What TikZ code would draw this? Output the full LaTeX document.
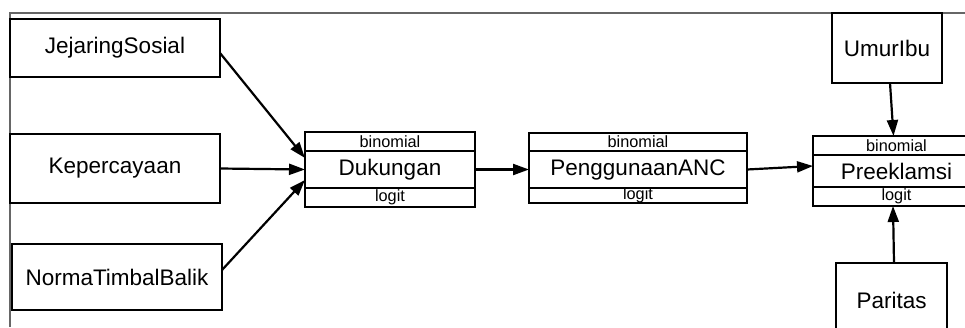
\documentclass[tikz,border=0pt]{standalone}
\usepackage{fontspec}
\setmainfont{Liberation Sans}
\usetikzlibrary{arrows.meta}
\begin{document}
\begin{tikzpicture}[x=1pt,y=-1pt,
 box/.style={draw,line width=2.4pt,inner sep=0pt,outer sep=0pt,font=\fontsize{22.5}{24}\selectfont},
 sub/.style={draw,line width=2.4pt,inner sep=0pt,outer sep=0pt,font=\fontsize{16.3}{17}\selectfont},
 arr/.style={line width=2.2pt,-{Triangle[length=16pt,width=11pt]}},
 frameline/.style={draw=black!60,line width=1.2pt}]
\useasboundingbox (0,0) rectangle (965,327);
\clip (0,0) rectangle (965,327);
\draw[frameline] (10,327) -- (10,13) -- (965,13);
% left inputs
\node[box,minimum width=210,minimum height=58] (js) at (115,48) {JejaringSosial};
\node[box,minimum width=210,minimum height=69] (kp) at (115,168.5) {Kepercayaan};
\node[box,minimum width=210,minimum height=66] (nt) at (117,277) {NormaTimbalBalik};
% Dukungan
\node[sub,minimum width=170,minimum height=19] (dukb) at (390,141.5) {binomial};
\node[box,minimum width=170,minimum height=37] (dukm) at (390,169.5) {Dukungan};
\node[sub,minimum width=170,minimum height=19] (dukl) at (390,197.5) {logit};
% PenggunaanANC
\node[sub,minimum width=218,minimum height=18] (ancb) at (638,142) {binomial};
\node[box,minimum width=218,minimum height=37] (ancm) at (638,169.5) {PenggunaanANC};
\node[sub,minimum width=218,minimum height=15] (ancl) at (638,195.5) {logit};
% Preeklamsi
\node[sub,minimum width=167,minimum height=19] (preb) at (896.5,145.5) {binomial};
\node[box,minimum width=167,minimum height=32] (prem) at (896.5,171) {Preeklamsi};
\node[sub,minimum width=167,minimum height=19] (prel) at (896.5,196.5) {logit};
% right inputs
\node[box,minimum width=110,minimum height=70] (ui) at (887,48) {UmurIbu};
\node[box,minimum width=111,minimum height=74] (pa) at (891.5,300) {Paritas};
% connectors
\draw[arr] ([yshift=-5pt]js.east) -- ([yshift=11.5pt]dukm.west);
\draw[arr] (kp.east) -- (dukm.west);
\draw[arr] ([yshift=7pt]nt.east) -- ([yshift=-10.5pt]dukm.west);
\draw[arr] (dukm.east) -- (ancm.west);
\draw[arr] (ancm.east) -- ([yshift=5pt]prem.west);
\draw[arr] ([xshift=3pt]ui.south) -- ([xshift=-3pt]preb.north);
\draw[arr] ([xshift=2.5pt]pa.north) -- ([xshift=-3.5pt]prel.south);
\end{tikzpicture}
\end{document}
